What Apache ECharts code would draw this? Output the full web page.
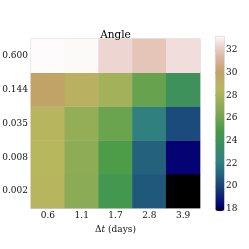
<!DOCTYPE html>
<html><head><meta charset="utf-8">
<script src="https://cdn.jsdelivr.net/npm/echarts@6/dist/echarts.min.js"></script>
<style>html,body{margin:0;padding:0;background:#fff}#c{width:249px;height:249px}</style>
</head><body><div id="c"></div>
<script>
const xCats = ['0.6', '1.1', '1.7', '2.8', '3.9'];
const yCats = ['0.002', '0.008', '0.035', '0.144', '0.600'];
const row0002 = [28.7, 27.0, 24.6, 20.7, 17.83];
const row0008 = [28.6, 27.1, 25.1, 21.0, 18.3];
const row0035 = [28.7, 27.3, 25.9, 22.2, 20.3];
const row0144 = [30.0, 29.1, 27.8, 25.8, 24.0];
const row0600 = [33.24, 33.2, 32.4, 31.9, 32.6];
const cbTicks = [18, 20, 22, 24, 26, 28, 30, 32];
const vMin = 17.83, vMax = 33.24;

// gist_earth colormap definition
const GE = {
  r: [[0,0],[0.2824,0.1882],[0.4588,0.2714],[0.5490,0.4719],[0.6980,0.7176],[0.7882,0.7553],[1,0.9922]],
  g: [[0,0],[0.0275,0],[0.1098,0.1893],[0.1647,0.3035],[0.2078,0.3841],[0.2824,0.5020],[0.5216,0.6397],[0.6980,0.7171],[0.7882,0.6392],[0.7922,0.6413],[0.8,0.6447],[0.8078,0.6481],[0.8157,0.6549],[0.8667,0.6991],[0.8745,0.7103],[0.8824,0.7216],[0.8902,0.7323],[0.8980,0.7430],[0.9412,0.8275],[0.9569,0.8635],[0.9647,0.8816],[0.9961,0.9733],[1,0.9843]],
  b: [[0,0],[0.0039,0.1684],[0.0078,0.2212],[0.0275,0.4329],[0.0314,0.4549],[0.2824,0.5004],[0.4667,0.2748],[0.5451,0.3205],[0.7843,0.3961],[0.8941,0.6651],[1,0.9843]]
};
function interp(pts, t) {
  for (let i = 1; i < pts.length; i++) {
    if (t <= pts[i][0]) {
      const a = pts[i-1], b = pts[i];
      return a[1] + (b[1]-a[1]) * (t - a[0]) / (b[0] - a[0]);
    }
  }
  return pts[pts.length-1][1];
}
const cmap = [];
for (let i = 0; i <= 255; i++) {
  const t = i / 255;
  const r = Math.round(interp(GE.r, t)*255), g = Math.round(interp(GE.g, t)*255), b = Math.round(interp(GE.b, t)*255);
  cmap.push('rgb(' + r + ',' + g + ',' + b + ')');
}

const rows = [row0002, row0008, row0035, row0144, row0600];
const data = [];
rows.forEach((row, yi) => row.forEach((v, xi) => data.push([xi, yi, v])));

const font = 'DejaVu Serif';
const tc = '#111';
const chart = echarts.init(document.getElementById('c'), null, {renderer: 'canvas'});
chart.setOption({
  animation: false,
  backgroundColor: '#fff',
  title: {
    text: 'Angle', left: 110.5, top: 25, textAlign: 'center',
    textStyle: {fontFamily: font, fontSize: 10.5, fontWeight: 'normal', color: '#000'}
  },
  grid: [
    {left: 31, top: 39, width: 169, height: 169, show: true, borderColor: '#cccccc', borderWidth: 1,
     backgroundColor: 'transparent', outerBoundsMode: 'none', containLabel: false},
    {left: 215, top: 36, width: 9, height: 174.5, outerBoundsMode: 'none', containLabel: false}
  ],
  xAxis: [
    {type: 'category', data: xCats, gridIndex: 0,
     axisLine: {show: true, lineStyle: {color: '#cccccc'}}, axisTick: {show: false},
     axisLabel: {fontFamily: font, fontSize: 9, color: tc, margin: 3},
     name: '{d|Δ}{t|t}{d| (days)}', nameLocation: 'middle', nameGap: 15,
     nameTextStyle: {rich: {d: {fontFamily: font, fontSize: 9, color: tc}, t: {fontFamily: font, fontSize: 9, fontStyle: 'italic', color: tc}}},
     splitLine: {show: false}},
    {type: 'value', gridIndex: 1, show: false, min: 0, max: 1}
  ],
  yAxis: [
    {type: 'category', data: yCats, gridIndex: 0,
     axisLine: {show: true, lineStyle: {color: '#cccccc'}}, axisTick: {show: false},
     axisLabel: {fontFamily: font, fontSize: 9, color: tc, margin: 3},
     name: 'δ', nameLocation: 'middle', nameGap: 30, nameRotate: 90,
     nameTextStyle: {fontFamily: font, fontSize: 9, color: tc, fontStyle: 'italic'},
     splitLine: {show: false}},
    {type: 'value', gridIndex: 1, position: 'right', min: vMin, max: vMax,
     axisLine: {show: false},
     axisTick: {show: true, length: 2, customValues: cbTicks, lineStyle: {color: '#222'}},
     axisLabel: {fontFamily: font, fontSize: 9, color: tc, margin: 2, customValues: cbTicks},
     splitLine: {show: false}}
  ],
  visualMap: {
    type: 'continuous', min: vMin, max: vMax, seriesIndex: 0,
    calculable: false, orient: 'vertical', left: 215, top: 36,
    itemWidth: 9, itemHeight: 174.5, padding: 0, text: null, showLabel: false,
    borderColor: '#d8d8d8', borderWidth: 0.8,
    inRange: {color: cmap}
  },
  series: [{
    type: 'heatmap', xAxisIndex: 0, yAxisIndex: 0, data: data,
    itemStyle: {borderWidth: 0}, emphasis: {disabled: true}
  }]
});
</script></body></html>
